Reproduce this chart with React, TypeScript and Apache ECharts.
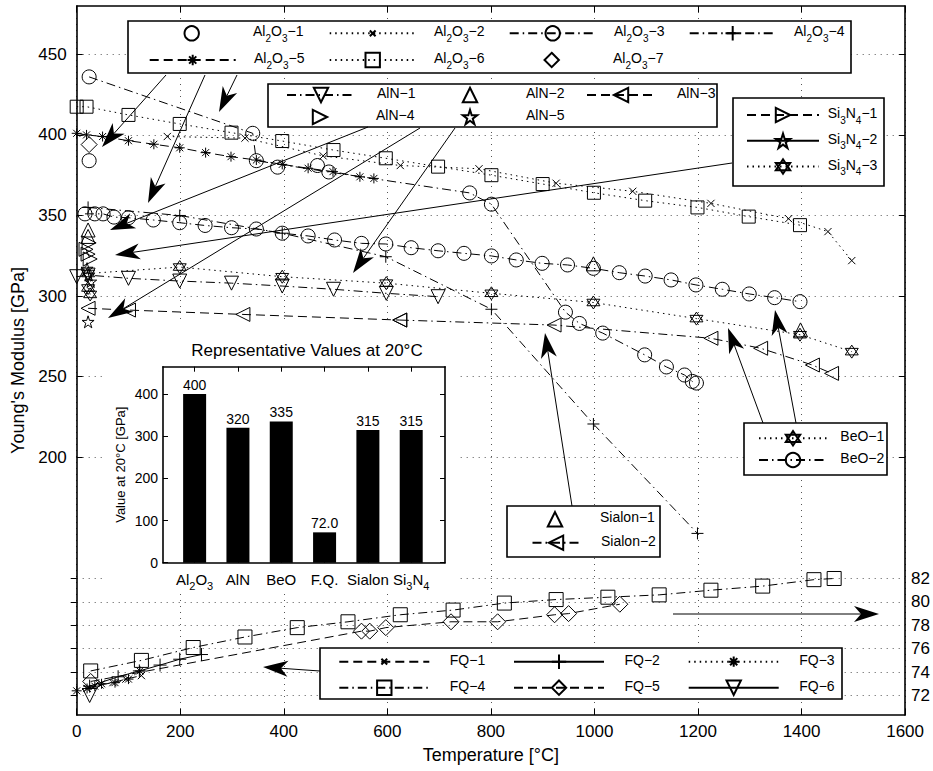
import React, { useEffect, useRef } from 'react';
import * as echarts from 'echarts';

const FONT = "'Liberation Sans', Arial, Helvetica, sans-serif";

// ---------------- axis ticks ----------------
const gpaTicks = [200, 250, 300, 350, 400, 450];
const fqTicks = [72, 74, 76, 78, 80, 82];
const insetTicks = [0, 100, 200, 300, 400];

// ---------------- inset bar chart data ----------------
const insetCats = ['Al2O3', 'AlN', 'BeO', 'F.Q.', 'Sialon', 'Si3N4'];
const insetVals = [400, 320, 335, 72.0, 315, 315];
const insetPos = [1, 2, 3, 4, 5, 6];

// ---------------- main series data: [temperature °C, modulus GPa] ----------------
const al2o3_1 = [[24, 384], [388, 380], [465, 381]];
const al2o3_2 = [[175, 399], [325, 398], [476, 387], [625, 381], [777, 379], [926, 370], [1074, 365], [1225, 357.5], [1375, 348], [1451, 340], [1497, 322]];
const al2o3_3 = [[24, 436], [340, 401], [347, 384], [487, 377], [759, 364], [801, 357], [944, 290], [971, 283], [1016, 277], [1097, 263.5], [1139, 256], [1174, 251], [1189, 247], [1197, 246]];
const al2o3_4 = [[22, 355], [199, 350], [397, 339], [597, 324.4], [801, 291.8], [998, 220.6], [1199, 152.7]];
const al2o3_5 = [[0, 401], [19, 400], [50, 399], [100, 396.4], [149, 394.2], [199, 392], [249, 389], [298, 386.5], [347, 384.4], [397, 381.7], [447, 379.3], [495, 377.2], [547, 374], [574, 373]];
const al2o3_6 = [[0, 417.5], [19, 417.5], [100, 412.4], [199, 406.8], [299, 401.4], [397, 396.2], [496, 390.6], [597, 385.5], [698, 380.3], [801, 375], [900, 369.5], [999, 364.1], [1098, 359.2], [1199, 355], [1298, 349.3], [1397, 344]];
const al2o3_7 = [[24, 394]];
const aln_1 = [[0, 312], [22, 313], [100, 311], [199, 309.3], [299, 308], [397, 306.2], [496, 304.2], [598, 301.7], [698, 299.6]];
const aln_2 = [[22, 337]];
const aln_3 = [[22, 292.4], [100, 291.3], [321, 288.6], [624, 285.1]];
const aln_4 = [[24, 333]];
const aln_5 = [[22, 284]];
const si3n4_1 = [[18, 329], [22, 326], [26, 323]];
const si3n4_2 = [[20, 317], [23, 313], [27, 309]];
const si3n4_3 = [[22, 305], [26, 301]];
const beo_1 = [[22, 314], [199, 318], [397, 312], [598, 308], [801, 301.7], [998, 296], [1197, 286], [1397, 276], [1497, 265.5]];
const beo_2 = [[16, 351], [35, 351], [51, 351], [72, 349], [100, 348.6], [148, 347.2], [199, 345.5], [248, 343.8], [299, 342.4], [347, 341.6], [397, 339], [447, 337.3], [498, 334.8], [550, 332.7], [597, 332.3], [646, 330], [698, 328.1], [748, 326.5], [801, 324.9], [849, 322.4], [899, 320.3], [948, 319.3], [998, 317.2], [1048, 314.5], [1098, 312.4], [1148, 310], [1196, 306.9], [1247, 304.2], [1299, 301.3], [1348, 299], [1397, 296.5]];
const sialon_1 = [[22, 341], [998, 320], [1398, 279]];
const sialon_2 = [[624, 285.1], [922, 282], [1225, 273.8], [1321, 267.6], [1421, 257.2], [1458, 252]];

// fused quartz series: [temperature °C, modulus GPa] on right axis
const fq_1 = [[20, 72.6], [45, 72.9], [70, 73.1], [95, 73.4], [125, 73.7]];
const fq_2 = [[25, 72.8], [80, 73.6], [121, 74.1], [161, 74.6], [199, 75.1], [241, 75.5]];
const fq_3 = [[0, 72.4], [20, 72.6], [35, 72.8], [48, 73.0], [74, 73.1], [100, 73.4], [122, 74.1]];
const fq_4 = [[27, 74.1], [125, 75.0], [225, 76.1], [325, 77.0], [426, 77.8], [524, 78.3], [625, 78.9], [727, 79.3], [826, 79.9], [926, 80.2], [1026, 80.4], [1125, 80.6], [1225, 81.0], [1325, 81.35], [1424, 81.9], [1463, 82.0]];
const fq_5 = [[27, 73.2], [550, 77.5], [566, 77.5], [597, 77.8], [723, 78.3], [813, 78.3], [923, 78.9], [950, 79.0], [1049, 79.8]];
const fq_6 = [[25, 72.0]];

// ---------------- symbols & line styles ----------------
const SYM: Record<string, string> = {
  circle: 'circle',
  square: 'rect',
  diamond: 'diamond',
  x: 'path://M0,0M20,20M6,6L14,14M14,6L6,14',
  plus: 'path://M5,0L5,10M0,5L10,5',
  ast: 'path://M0,0M14,14M7,2L7,12M2,7L12,7M3.5,3.5L10.5,10.5M10.5,3.5L3.5,10.5',
  up: 'path://M5,0L10,8.66L0,8.66Z',
  down: 'path://M0,0L10,0L5,8.66Z',
  left: 'path://M8.66,0L8.66,10L0,5Z',
  right: 'path://M0,0L8.66,5L0,10Z',
  pent: 'path://M5,0L6.123,3.455L9.755,3.455L6.817,5.59L7.939,9.045L5,6.91L2.061,9.045L3.183,5.59L0.245,3.455L3.877,3.455Z',
  hex: 'path://M5,0L9.33,7.5L0.67,7.5ZM5,10L0.67,2.5L9.33,2.5Z',
};
const SOLID = 'solid';
const DASH = [9, 5];
const DOT = [1.5, 4];
const DASHDOT = [9, 4, 1.5, 4];

type SDef = [string, number[][], string, number, any, number];
const seriesDefs: SDef[] = [
  ['Al2O3-1', al2o3_1, 'circle', 14, null, 0],
  ['Al2O3-2', al2o3_2, 'x', 18, DOT, 0],
  ['Al2O3-3', al2o3_3, 'circle', 14, DASHDOT, 0],
  ['Al2O3-4', al2o3_4, 'plus', 12, DASHDOT, 0],
  ['Al2O3-5', al2o3_5, 'ast', 14, DASH, 0],
  ['Al2O3-6', al2o3_6, 'square', 13, DOT, 0],
  ['Al2O3-7', al2o3_7, 'diamond', 16, null, 0],
  ['AlN-1', aln_1, 'down', 14, DASHDOT, 0],
  ['AlN-2', aln_2, 'up', 14, null, 0],
  ['AlN-3', aln_3, 'left', 14, DASH, 0],
  ['AlN-4', aln_4, 'right', 14, null, 0],
  ['AlN-5', aln_5, 'pent', 12, null, 0],
  ['Si3N4-1', si3n4_1, 'right', 14, DASH, 0],
  ['Si3N4-2', si3n4_2, 'pent', 12, SOLID, 0],
  ['Si3N4-3', si3n4_3, 'hex', 13, DOT, 0],
  ['BeO-1', beo_1, 'hex', 13, DOT, 0],
  ['BeO-2', beo_2, 'circle', 14, DASHDOT, 0],
  ['Sialon-1', sialon_1, 'up', 14, null, 0],
  ['Sialon-2', sialon_2, 'left', 14, DASHDOT, 0],
  ['FQ-1', fq_1, 'x', 18, DASH, 2],
  ['FQ-2', fq_2, 'plus', 13, SOLID, 2],
  ['FQ-3', fq_3, 'ast', 14, DOT, 2],
  ['FQ-4', fq_4, 'square', 14, DASHDOT, 2],
  ['FQ-5', fq_5, 'diamond', 16, DASH, 2],
  ['FQ-6', fq_6, 'down', 14, SOLID, 2],
];

// ---------------- legend layout (pixel placement of legend boxes) ----------------
const ITEM_H = 18;
const legendGroups = [
  { names: ['Al2O3-1', 'Al2O3-2', 'Al2O3-3', 'Al2O3-4', 'Al2O3-5', 'Al2O3-6', 'Al2O3-7'], cols: 4, cx0: 191.7, cy0: 33.3, dx: 180, dy: 26.7, iconW: 86, textOff: 61.3, box: [128, 21, 723, 52] },
  { names: ['AlN-1', 'AlN-2', 'AlN-3', 'AlN-4', 'AlN-5'], cols: 3, cx0: 320, cy0: 95, dx: 150, dy: 22, iconW: 68, textOff: 56, box: [268, 84, 449, 43] },
  { names: ['Si3N4-1', 'Si3N4-2', 'Si3N4-3'], cols: 1, cx0: 782, cy0: 115, dx: 0, dy: 25.8, iconW: 72, textOff: 44.7, box: [733, 98, 151, 88] },
  { names: ['BeO-1', 'BeO-2'], cols: 1, cx0: 792, cy0: 438.3, dx: 0, dy: 21.7, iconW: 68, textOff: 47.3, box: [744, 423, 143, 52] },
  { names: ['Sialon-1', 'Sialon-2'], cols: 1, cx0: 555, cy0: 519.3, dx: 0, dy: 23.4, iconW: 47, textOff: 45, box: [507, 506, 153, 51] },
  { names: ['FQ-1', 'FQ-2', 'FQ-3', 'FQ-4', 'FQ-5', 'FQ-6'], cols: 3, cx0: 383.3, cy0: 661.7, dx: 174.7, dy: 26, iconW: 90, textOff: 65.5, box: [320, 648, 522, 51] },
];

// annotation arrows [x1, y1, tipX, tipY] in page pixels
const arrows = [
  [166, 75, 102, 147],
  [205, 75, 148, 203],
  [237, 75, 219, 112],
  [368, 127, 110, 230],
  [420, 128, 108, 318],
  [455, 128, 353, 273],
  [732, 163, 115, 255],
  [320, 671, 263, 667],
  [673, 614, 879, 614],
  [763, 423, 728, 328],
  [796, 423, 775, 310],
  [572, 506, 545, 333],
];

function subRich(base: string, first: string): string {
  const parts = base.match(/(\d+|[^\d]+)/g) || [base];
  let out = '';
  parts.forEach((p, i) => {
    if (/^\d+$/.test(p)) out += `{s|${p}}`;
    else out += `{${i === 0 ? first : 'n'}|${p}}`;
  });
  return out;
}
function legendText(name: string): string {
  const idx = name.lastIndexOf('-');
  const base = name.slice(0, idx);
  const num = name.slice(idx + 1);
  return subRich(base, 'p') + `{n|\u2212${num}}`;
}
function makeRich(sp: number, fs: number) {
  return {
    p: { fontSize: fs, fontFamily: FONT, color: '#000', lineHeight: 18, verticalAlign: 'top', padding: [0, 0, 0, sp] },
    n: { fontSize: fs, fontFamily: FONT, color: '#000', lineHeight: 18, verticalAlign: 'top' },
    s: { fontSize: fs - 4, fontFamily: FONT, color: '#000', lineHeight: 10, verticalAlign: 'top', padding: [9, 0, 0, 0] },
  };
}

function arrowEls(a: number[]) {
  const [x1, y1, x2, y2] = a;
  const dx = x2 - x1, dy = y2 - y1;
  const len = Math.hypot(dx, dy);
  const ux = dx / len, uy = dy / len;
  const nx = -uy, ny = ux;
  const L = 25, W = 8, N = 7;
  const bx = x2 - L * ux, by = y2 - L * uy;
  const mx = x2 - (L - N) * ux, my = y2 - (L - N) * uy;
  return [
    { type: 'line', z: 10, silent: true, shape: { x1, y1, x2: mx, y2: my }, style: { stroke: '#000', lineWidth: 1 } },
    { type: 'polygon', z: 10, silent: true, shape: { points: [[x2, y2], [bx + W * nx, by + W * ny], [mx, my], [bx - W * nx, by - W * ny]] }, style: { fill: '#000' } },
  ];
}

const gridLine = { show: true, lineStyle: { color: '#555', type: [1, 5], width: 1 } };
const axLine = { show: true, onZero: false, lineStyle: { color: '#000', width: 1.6 } };
const tickIn = (vals?: number[]) => ({ show: true, inside: true, length: 6, lineStyle: { color: '#000', width: 1 }, ...(vals ? { customValues: vals } : {}) });
const plain = (v: number) => String(Math.round(v * 1000) / 1000);

export default function App() {
  const ref = useRef<HTMLDivElement>(null);
  useEffect(() => {
    if (!ref.current) return;
    const chart = echarts.init(ref.current, null, { renderer: 'svg' });

    const series: any[] = seriesDefs.map(([name, data, sym, size, dash, yi]) => ({
      name,
      type: 'line',
      xAxisIndex: 0,
      yAxisIndex: yi,
      data,
      symbol: SYM[sym],
      symbolSize: size,
      showSymbol: true,
      showAllSymbol: true,
      silent: true,
      z: 2,
      lineStyle: dash == null ? { width: 0, color: '#000' } : { color: '#000', width: 1, type: dash },
      itemStyle: { color: 'rgba(0,0,0,0)', borderColor: '#000', borderWidth: 1 },
      emphasis: { disabled: true },
    }));

    series.push({
      name: 'inset',
      type: 'bar',
      xAxisIndex: 2,
      yAxisIndex: 3,
      data: insetPos.map((p, i) => [p, insetVals[i]]),
      barWidth: 23,
      silent: true,
      z: 2,
      itemStyle: { color: '#000' },
      label: {
        show: true,
        position: 'top',
        distance: 2,
        fontSize: 14,
        fontFamily: FONT,
        color: '#000',
        formatter: (p: any) => (p.value[1] < 100 ? p.value[1].toFixed(1) : String(p.value[1])),
      },
    });

    const legends: any[] = [];
    const graphics: any[] = [];
    legendGroups.forEach((g) => {
      graphics.push({
        type: 'rect', z: 3, silent: true,
        shape: { x: g.box[0], y: g.box[1], width: g.box[2], height: g.box[3] },
        style: { fill: '#fff', stroke: '#000', lineWidth: 1.6 },
      });
      g.names.forEach((name, i) => {
        const col = i % g.cols;
        const row = Math.floor(i / g.cols);
        const cx = g.cx0 + col * g.dx;
        const cy = g.cy0 + row * g.dy;
        legends.push({
          data: [name],
          left: cx - g.iconW / 2,
          top: cy - ITEM_H / 2,
          itemWidth: g.iconW,
          itemHeight: ITEM_H,
          padding: 0,
          itemGap: 0,
          selectedMode: false,
          z: 4,
          formatter: (n: string) => legendText(n),
          textStyle: { color: '#000', fontFamily: FONT, fontSize: 14, rich: makeRich(g.textOff - g.iconW / 2 - 5, 14) },
        });
      });
    });

    // white patch behind inset axes
    graphics.push({ type: 'rect', z: 1, silent: true, shape: { x: 103, y: 322, width: 355, height: 268 }, style: { fill: '#fff' } });
    // inset title
    graphics.push({
      type: 'text', z: 3, silent: true, x: 307, y: 350,
      style: { text: 'Representative Values at 20°C', align: 'center', verticalAlign: 'middle', fontSize: 17, fontFamily: FONT, fill: '#000' },
    });
    arrows.forEach((a) => graphics.push(...arrowEls(a)));

    const insetRich = {
      n: { fontSize: 15, fontFamily: FONT, color: '#000', lineHeight: 18, verticalAlign: 'top' },
      p: { fontSize: 15, fontFamily: FONT, color: '#000', lineHeight: 18, verticalAlign: 'top' },
      s: { fontSize: 11, fontFamily: FONT, color: '#000', lineHeight: 10, verticalAlign: 'top', padding: [9, 0, 0, 0] },
    };

    chart.setOption({
      animation: false,
      backgroundColor: '#fff',
      grid: [
        { left: 76.7, right: 933 - 906.7, top: 6, bottom: 771 - 715 },
        { left: 163, right: 933 - 445, top: 366.7, bottom: 771 - 562.7 },
      ],
      xAxis: [
        {
          gridIndex: 0, type: 'value', min: 0, max: 1600, interval: 200, position: 'bottom',
          name: 'Temperature [°C]', nameLocation: 'middle', nameGap: 31,
          nameTextStyle: { fontSize: 18, color: '#000', fontFamily: FONT },
          axisLine: axLine, axisTick: tickIn(),
          axisLabel: { fontSize: 17, color: '#000', fontFamily: FONT, margin: 8, formatter: plain },
          splitLine: gridLine, z: 0,
        },
        {
          gridIndex: 0, type: 'value', min: 0, max: 1600, interval: 200, position: 'top',
          axisLine: axLine, axisTick: tickIn(), axisLabel: { show: false }, splitLine: { show: false }, z: 0,
        },
        {
          gridIndex: 1, type: 'value', min: 0.27, max: 6.78, position: 'bottom',
          axisLine: axLine, axisTick: { ...tickIn(insetPos), length: 5 },
          axisLabel: {
            customValues: insetPos, margin: 9, color: '#000', fontFamily: FONT, fontSize: 15,
            formatter: (v: number) => subRich(insetCats[Math.round(v) - 1] || '', 'n'),
            rich: insetRich,
          },
          splitLine: { show: false }, z: 3,
        },
        {
          gridIndex: 1, type: 'value', min: 0.27, max: 6.78, position: 'top',
          axisLine: axLine, axisTick: { ...tickIn(insetPos), length: 5 }, axisLabel: { show: false }, splitLine: { show: false }, z: 3,
        },
      ],
      yAxis: [
        {
          gridIndex: 0, type: 'value', min: 40, max: 480, position: 'left',
          name: "Young's Modulus [GPa]", nameLocation: 'middle', nameGap: 48,
          nameTextStyle: { fontSize: 18, color: '#000', fontFamily: FONT },
          axisLine: axLine, axisTick: tickIn(gpaTicks),
          axisLabel: { customValues: gpaTicks, fontSize: 17, color: '#000', fontFamily: FONT, margin: 10, formatter: plain },
          splitLine: gridLine, z: 0,
        },
        {
          gridIndex: 0, type: 'value', min: 40, max: 480, position: 'right',
          axisLine: axLine, axisTick: tickIn(gpaTicks), axisLabel: { show: false }, splitLine: { show: false }, z: 0,
        },
        {
          gridIndex: 0, type: 'value', min: 70.333, max: 130.93, position: 'right',
          axisLine: { show: false }, axisTick: tickIn(fqTicks),
          axisLabel: { customValues: fqTicks, fontSize: 17, color: '#000', fontFamily: FONT, margin: 6, formatter: plain },
          splitLine: gridLine, z: 0,
        },
        {
          gridIndex: 1, type: 'value', min: 0, max: 465, position: 'left',
          name: 'Value at 20°C [GPa]', nameLocation: 'middle', nameGap: 36,
          nameTextStyle: { fontSize: 13, color: '#000', fontFamily: FONT },
          axisLine: axLine, axisTick: { ...tickIn(insetTicks), length: 5 },
          axisLabel: { customValues: insetTicks, fontSize: 14, color: '#000', fontFamily: FONT, margin: 5, formatter: plain },
          splitLine: { show: false }, z: 3,
        },
        {
          gridIndex: 1, type: 'value', min: 0, max: 465, position: 'right',
          axisLine: axLine, axisTick: { ...tickIn(insetTicks), length: 5 }, axisLabel: { show: false }, splitLine: { show: false }, z: 3,
        },
      ],
      legend: legends,
      graphic: graphics,
      series,
    });
    return () => chart.dispose();
  }, []);
  return <div ref={ref} style={{ position: 'absolute', left: 0, top: 0, width: 933, height: 771 }} />;
}
